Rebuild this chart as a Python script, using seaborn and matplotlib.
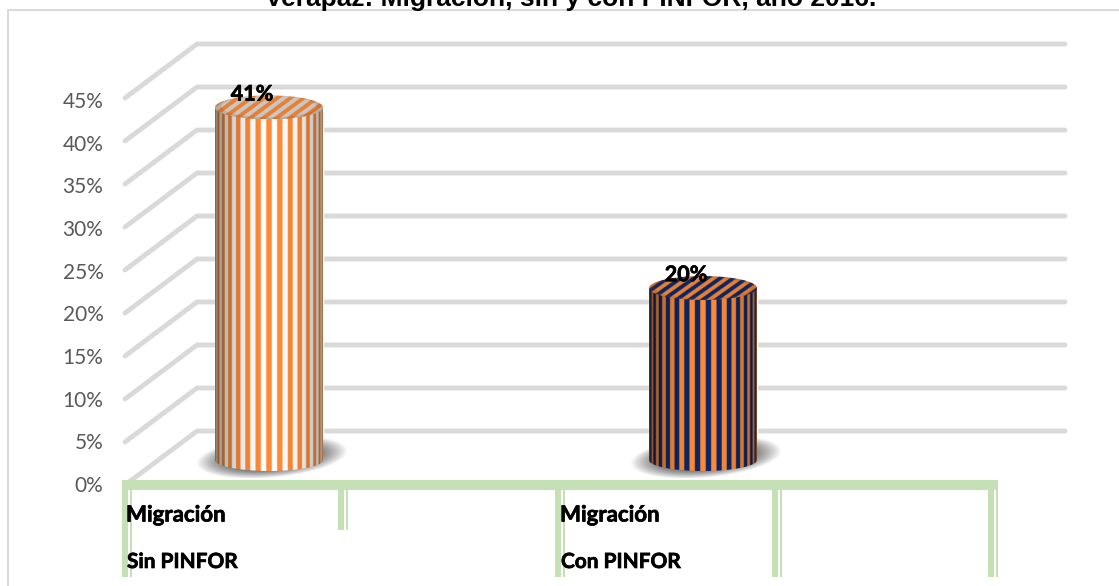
import numpy as np
import matplotlib
matplotlib.use('Agg')
import matplotlib.pyplot as plt
import matplotlib.patheffects as pe
from matplotlib.path import Path
from matplotlib.patches import PathPatch, Ellipse
import seaborn as sns

# Chart data
categories = ['Sin PINFOR', 'Con PINFOR']
values = [41, 20]
tick_values = [0, 5, 10, 15, 20, 25, 30, 35, 40, 45]
row1_labels = ['Migración', 'Migración']
row2_labels = ['Sin PINFOR', 'Con PINFOR']
title = 'Verapaz: Migración, sin y con PINFOR, año 2016.'

W, H = 1119, 586
PX_PER_UNIT = 8.6
BASE_PX = 460
CENTER_PX = [269, 703]
CAT_PX = CENTER_PX[1] - CENTER_PX[0]
BAR_W_PX = 108
ELL_PX = 11
CAP_PX = 12

GRID = '#d9d9d9'
GREEN = '#c5e0b4'
ORANGE = np.array([0xf5, 0x86, 0x35]) / 255
NAVY = np.array([0x0b, 0x26, 0x66]) / 255
WHITE = np.array([0xf6, 0xf6, 0xf6]) / 255
GRAY = np.array([0xc8, 0xc8, 0xc8]) / 255
second_colors = [WHITE, NAVY]
top_colors = [GRAY, NAVY]
heavy = [pe.withStroke(linewidth=0.5, foreground='black')]

sns.set_theme(style='white')
plt.rcParams['font.family'] = ['Lato', 'DejaVu Sans']

fig = plt.figure(figsize=(W / 100, H / 100), dpi=100)
fig.patch.set_facecolor('white')

# axes in px terms: left 118, right 1075, top 30, bottom 490
ax = fig.add_axes([118 / W, 1 - 490 / H, (1075 - 118) / W, (490 - 30) / H])
ax.patch.set_alpha(0)


def x_data(px):
    return (px - CENTER_PX[0]) / CAT_PX


def y_data(px):
    return (BASE_PX - px) / PX_PER_UNIT


sns.barplot(x=categories, y=values, color='#f58635', width=BAR_W_PX / CAT_PX,
            ax=ax, zorder=2)
ax.set_xlabel('')
ax.set_ylabel('')
ax.set_xticks([])
sns.despine(ax=ax, left=True, bottom=True)

# tick labels sit on the chart's front plane
ax.set_yticks([y_data(484) + v * (y_data(100) - y_data(484)) / 45 for v in tick_values])
ax.set_yticklabels([f'{v}%' for v in tick_values], fontsize=15, color='#595959')
ax.tick_params(axis='y', length=0, pad=10.5)

# 3D-looking gridlines: front stub, then back wall
for v in tick_values:
    ax.plot([x_data(125), x_data(197), x_data(1065)],
            [v + y_data(442) - 5, v + y_data(388) - 5, v + y_data(388) - 5],
            color=GRID, lw=3.5, solid_capstyle='round', solid_joinstyle='miter',
            zorder=1, clip_on=False)

# cylinders built on the bars seaborn drew
ry = ELL_PX / PX_PER_UNIT
cap_ry = CAP_PX / PX_PER_UNIT
for i, bar in enumerate(ax.patches):
    x0 = bar.get_x()
    rx = bar.get_width() / 2
    cx = x0 + rx
    top = bar.get_height()

    # shadow on the floor, tilted up to the right
    gx, gy = np.meshgrid(np.linspace(-1, 1, 200), np.linspace(-1, 1, 80))
    r = gx ** 2 + (gy + 0.3 * gx) ** 2
    shadow = np.zeros((80, 200, 4))
    shadow[..., :3] = 0.35
    shadow[..., 3] = np.clip((1 - r) * 1.3, 0, 0.8)
    ax.imshow(shadow, extent=[cx + 3 / CAT_PX - 76 / CAT_PX, cx + 3 / CAT_PX + 76 / CAT_PX,
                              y_data(478), y_data(436)],
              aspect='auto', zorder=3, interpolation='bilinear')

    # body: stripes compressed towards the edges, darker at the sides
    u = np.linspace(-1, 1, 864)
    theta = np.arcsin(u)
    stripe = (np.floor((theta + np.pi / 2) / (np.pi / 31)) % 2).astype(int)
    rgb = np.where(stripe[:, None] == 1, ORANGE, second_colors[i])
    light = 1.03 - 0.42 * np.abs(u - 0.05) ** 2.6
    body = np.clip(rgb * light[:, None], 0, 1)[None, :, :]
    t = np.linspace(np.pi, 2 * np.pi, 80)
    outline = np.concatenate([
        np.column_stack([cx + rx * np.cos(t), ry * np.sin(t)]),
        [[cx + rx, top], [cx - rx, top]],
    ])
    clip = PathPatch(Path(np.vstack([outline, outline[0]])), transform=ax.transData,
                     fc='none', ec='none')
    ax.add_patch(clip)
    im = ax.imshow(body, extent=[cx - rx, cx + rx, -ry - 0.1, top + 0.1], aspect='auto',
                   zorder=4, interpolation='bilinear')
    im.set_clip_path(clip)

    # top face: diagonal stripes inside an ellipse
    fx, fy = np.meshgrid(np.linspace(-54, 54, 432), np.linspace(CAP_PX, -CAP_PX, 96))
    band = (np.floor((fx - 1.4 * fy) / 6.6) % 2).astype(int)
    face = np.where(band[..., None] == 1, ORANGE * 0.95, top_colors[i])
    rim = (fx / 54) ** 2 + (fy / CAP_PX) ** 2
    face = np.where((rim > 0.78)[..., None], face * 0.8 + ORANGE * 0.1, face)
    cap = Ellipse((cx, top), 2 * rx, 2 * cap_ry, transform=ax.transData, fc='none', ec='none')
    ax.add_patch(cap)
    im2 = ax.imshow(np.clip(face, 0, 1), extent=[cx - rx, cx + rx, top - cap_ry, top + cap_ry],
                    aspect='auto', zorder=5, interpolation='bilinear')
    im2.set_clip_path(cap)

    ax.text(cx - 17 / CAT_PX, top + 1.55, f'{values[i]}%', ha='center', va='center',
            fontsize=15.5, fontweight='bold', color='black', zorder=6, path_effects=heavy)

ax.set_xlim(x_data(118), x_data(1075))
ax.set_ylim(y_data(490), y_data(30))

# overlay in pixels for the frame, the title and the green data table
over = fig.add_axes([0, 0, 1, 1], zorder=3)
over.set_xlim(0, W)
over.set_ylim(H, 0)
over.axis('off')
over.patch.set_alpha(0)

over.plot([8, 8], [9.5, H], color=GRID, lw=1.4)
over.plot([8, W], [9.5, 9.5], color=GRID, lw=1.4)

# the title runs off the top edge, same as the source image
over.text(571, 6, title, ha='center', va='baseline', fontsize=19, fontweight='bold',
          family='Liberation Sans', color='black', clip_on=False)

over.fill_between([122, 998], 480, 490, color=GREEN, lw=0)
for x, end in [(122, 577), (338, 530), (555, 577), (772, 577), (988, 577)]:
    over.fill_between([x, x + 6], 485, end, color=GREEN, lw=0)
    over.fill_between([x + 8, x + 10], 485, end, color=GREEN, lw=0)

for i, (a, b) in enumerate(zip(row1_labels, row2_labels)):
    px = CENTER_PX[i] - 142
    over.text(px - 1, 515, a, fontsize=16, fontweight='bold', color='black', va='center',
              path_effects=heavy)
    over.text(px, 562, b, fontsize=15, fontweight='bold', color='black', va='center',
              path_effects=heavy)

fig.savefig('out.png', dpi=100)
